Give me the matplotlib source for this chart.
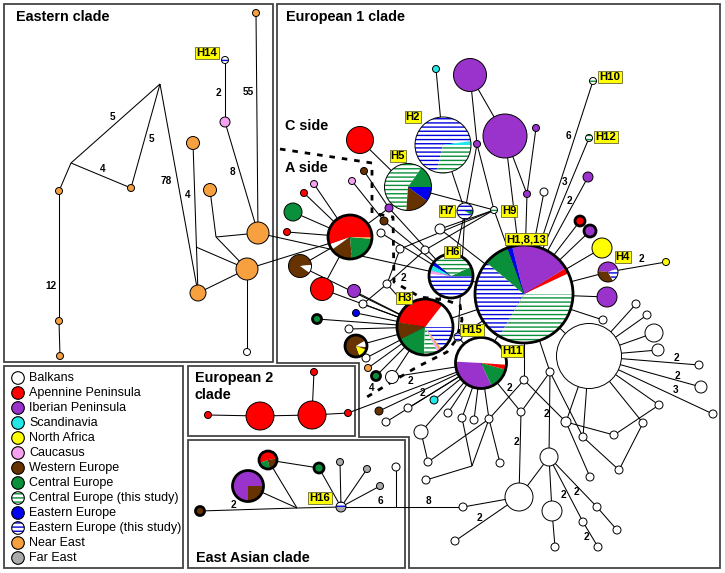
import matplotlib
matplotlib.use("Agg")
import matplotlib.pyplot as plt
from matplotlib.patches import Circle, Wedge, Rectangle, Polygon

plt.rcParams['font.family'] = ['Liberation Sans', 'DejaVu Sans']
plt.rcParams['hatch.linewidth'] = 1.0

# regions (legend order), colours, hatch
categories = ['Balkans', 'Apennine Peninsula', 'Iberian Peninsula', 'Scandinavia',
              'North Africa', 'Caucasus', 'Western Europe', 'Central Europe',
              'Central Europe (this study)', 'Eastern Europe',
              'Eastern Europe (this study)', 'Near East', 'Far East']
keys = ['BAL', 'APE', 'IBE', 'SCA', 'NAF', 'CAU', 'WEU', 'CEU', 'CEUs', 'EEU', 'EEUs', 'NEA', 'FEA']
face = {'BAL': 'white', 'APE': '#ff0000', 'IBE': '#9933cc', 'SCA': '#22e8e8',
        'NAF': '#ffff00', 'CAU': '#f5a0f0', 'WEU': '#663300', 'CEU': '#0a8f3a',
        'CEUs': 'white', 'EEU': '#0000ee', 'EEUs': 'white', 'NEA': '#f7a040',
        'FEA': '#aaaaaa'}
stripe = {'CEUs': '#0a8f3a', 'EEUs': '#0000dd'}

# haplotype nodes: name, x, y, radius (pixels of the original figure), fill, bold outline
eastern_nodes = [
    ('e_top', 256, 13, 3.5, 'NEA', 0), ('H14', 225, 60, 3.5, 'EEUs', 0),
    ('e_pink', 225, 122, 5, 'CAU', 0), ('e_o1', 193, 143, 6.5, 'NEA', 0),
    ('e_o2', 210, 190, 6.5, 'NEA', 0), ('e_A', 258, 233, 11, 'NEA', 0),
    ('e_B', 247, 269, 11, 'NEA', 0), ('e_C', 198, 293, 8, 'NEA', 0),
    ('e_w', 247, 352, 3.5, 'BAL', 0), ('e_o3', 131, 188, 3.5, 'NEA', 0),
    ('e_o4', 59, 191, 3.5, 'NEA', 0), ('e_o5', 59, 321, 3.5, 'NEA', 0),
    ('e_o6', 60, 356, 3.5, 'NEA', 0),
    ('j1', 160, 84, 0, None, 0), ('j2', 71, 163, 0, None, 0),
    ('j3', 216, 237, 0, None, 0), ('j4', 196, 247, 0, None, 0),
]

euro1_nodes = [
    ('cy1', 436, 69, 3.5, 'SCA', 0), ('P1', 470, 75, 16.5, 'IBE', 0),
    ('P2', 505, 136, 22, 'IBE', 0), ('pu1', 536, 128, 3.5, 'IBE', 0),
    ('H10', 593, 81, 3.5, 'CEUs', 0), ('H12', 589, 138, 3.5, 'CEUs', 0),
    ('pu2', 588, 177, 5, 'IBE', 0), ('H2', 443, 145, 28, 'pie_H2', 0),
    ('red1', 360, 140, 13.5, 'APE', 0), ('pu3', 477, 144, 3.5, 'IBE', 0),
    ('H5', 408, 187, 23.5, 'pie_H5', 0), ('H7', 465, 211, 8, 'pie_H7', 0),
    ('H9', 494, 210, 3.5, 'CEUs', 0), ('pu4', 527, 194, 3.5, 'IBE', 0),
    ('w1', 544, 192, 4, 'BAL', 0), ('rb', 580, 221, 5, 'APE', 1),
    ('pb', 590, 231, 6, 'IBE', 1), ('ye', 602, 248, 10, 'NAF', 0),
    ('H4', 608, 272, 10, 'pie_H4', 0), ('ye2', 666, 262, 3.5, 'NAF', 0),
    ('H1', 524, 294, 49, 'pie_H1', 1), ('H6', 451, 276, 22, 'pie_H6', 1),
    ('H3', 425, 327, 28, 'pie_H3', 1), ('H15', 458, 337, 4, 'EEUs', 0),
    ('H11', 481, 363, 25.5, 'pie_H11', 1), ('BW', 589, 356, 32.5, 'BAL', 0),
    ('pu5', 607, 297, 10, 'IBE', 0),
    ('PR', 350, 237, 22, 'pie_PR', 1), ('r2', 304, 193, 3.5, 'APE', 0),
    ('pk1', 314, 184, 3.5, 'CAU', 0), ('pk2', 352, 181, 3.5, 'CAU', 0),
    ('br1', 364, 171, 3.5, 'WEU', 0), ('pu6', 389, 208, 4, 'IBE', 0),
    ('br2', 384, 221, 4, 'WEU', 0), ('g1', 293, 212, 9, 'CEU', 0),
    ('r3', 287, 232, 3.5, 'APE', 0), ('BP', 300, 266, 11.5, 'pie_BP', 0),
    ('r4', 322, 289, 11.5, 'APE', 0), ('pu7', 354, 291, 6.5, 'IBE', 0),
    ('w2', 381, 233, 4, 'BAL', 0), ('w3', 440, 229, 5, 'BAL', 0),
    ('w4', 400, 249, 4, 'BAL', 0), ('w5', 425, 250, 4, 'BAL', 0),
    ('w6', 387, 284, 4, 'BAL', 0), ('w7', 363, 304, 4, 'BAL', 0),
    ('bl1', 356, 313, 3.5, 'EEU', 0), ('gb1', 317, 319, 4.5, 'CEU', 1),
    ('w8', 349, 329, 4, 'BAL', 0), ('BY', 356, 346, 11, 'pie_BY', 1),
    ('w9', 366, 358, 4, 'BAL', 0), ('or1', 368, 368, 3.5, 'NEA', 0),
    ('gb2', 376, 376, 4.5, 'CEU', 1), ('w10', 392, 377, 6.5, 'BAL', 0),
    ('br3', 379, 411, 4, 'WEU', 0), ('w11', 386, 422, 4, 'BAL', 0),
    ('w12', 408, 408, 4, 'BAL', 0), ('cy2', 434, 400, 4, 'SCA', 0),
    ('w13', 448, 413, 4, 'BAL', 0), ('w14', 462, 418, 4, 'BAL', 0),
    ('w15', 474, 420, 4, 'BAL', 0), ('w16', 489, 419, 4, 'BAL', 0),
    ('w17', 421, 432, 7, 'BAL', 0), ('w18', 428, 462, 4, 'BAL', 0),
    ('w19', 426, 480, 4, 'BAL', 0), ('w20', 500, 463, 4, 'BAL', 0),
    ('jV', 472, 466, 0, None, 0),
    ('w21', 524, 380, 4, 'BAL', 0), ('w22', 521, 412, 4, 'BAL', 0),
    ('w23', 550, 372, 4, 'BAL', 0), ('w24', 549, 457, 9, 'BAL', 0),
    ('w25', 519, 497, 14, 'BAL', 0), ('w26', 552, 511, 10, 'BAL', 0),
    ('w27', 463, 507, 4, 'BAL', 0), ('w28', 455, 541, 4, 'BAL', 0),
    ('w29', 555, 547, 4, 'BAL', 0), ('w30', 598, 547, 4, 'BAL', 0),
    ('w31', 583, 522, 4, 'BAL', 0), ('w32', 597, 507, 4, 'BAL', 0),
    ('w33', 617, 530, 4, 'BAL', 0), ('w34', 566, 422, 5, 'BAL', 0),
    ('w35', 583, 437, 4, 'BAL', 0), ('w36', 590, 477, 4, 'BAL', 0),
    ('w37', 614, 435, 4, 'BAL', 0), ('w38', 619, 470, 4, 'BAL', 0),
    ('w39', 643, 423, 4, 'BAL', 0), ('w40', 659, 405, 4, 'BAL', 0),
    ('w41', 603, 320, 4, 'BAL', 0), ('w42', 636, 304, 4, 'BAL', 0),
    ('w43', 647, 315, 4, 'BAL', 0), ('w44', 654, 333, 9, 'BAL', 0),
    ('w45', 658, 350, 6, 'BAL', 0), ('w46', 699, 365, 4, 'BAL', 0),
    ('w47', 701, 387, 6, 'BAL', 0), ('w48', 713, 414, 4, 'BAL', 0),
]

euro2_nodes = [
    ('e2a', 208, 415, 3.5, 'APE', 0), ('e2b', 260, 416, 14, 'APE', 0),
    ('e2c', 312, 415, 14, 'APE', 0), ('e2d', 348, 413, 3.5, 'APE', 0),
    ('e2e', 314, 372, 3.5, 'APE', 0),
]

asian_nodes = [
    ('EP', 248, 486, 15.5, 'pie_EP', 1), ('ER', 268, 460, 9, 'pie_ER', 1),
    ('eg', 319, 468, 5, 'CEU', 1), ('gy1', 340, 462, 3.5, 'FEA', 0),
    ('gy2', 367, 469, 3.5, 'FEA', 0), ('gy3', 380, 486, 3.5, 'FEA', 0),
    ('ew', 396, 467, 4, 'BAL', 0), ('H16', 341, 507, 5, 'pie_H16', 0),
    ('ebr', 200, 511, 4.5, 'WEU', 1),
    ('jE', 297, 508, 0, None, 0), ('jE2', 396, 507, 0, None, 0),
]

# pie compositions: (region, start angle, end angle), degrees counter-clockwise from east
pie_H1 = [('EEUs', 140, 240), ('CEUs', 240, 360), ('BAL', 0, 25), ('APE', 25, 32),
          ('IBE', 32, 104), ('EEU', 104, 110), ('CEU', 110, 140)]
pie_H2 = [('EEUs', 8, 256), ('CEUs', 256, 360), ('SCA', 0, 8)]
pie_H5 = [('CEUs', 55, 266), ('WEU', 266, 324), ('EEU', 324, 360), ('CEU', 0, 55)]
pie_H7 = [('EEUs', 0, 330), ('CEU', 330, 360)]
pie_H4 = [('IBE', 20, 175), ('WEU', 175, 300), ('EEUs', 300, 380)]
pie_H6 = [('EEUs', 180, 360), ('CEU', 0, 25), ('CEUs', 25, 140), ('EEU', 140, 150),
          ('SCA', 150, 165), ('CAU', 165, 175), ('BAL', 175, 180)]
pie_H3 = [('BAL', 0, 52), ('APE', 52, 170), ('WEU', 170, 207), ('CEU', 207, 268),
          ('CEUs', 268, 297), ('CAU', 297, 302), ('NEA', 302, 307), ('EEUs', 307, 360)]
pie_H11 = [('BAL', -4, 177), ('IBE', 177, 295), ('CEU', 295, 345), ('APE', 345, 356)]
pie_PR = [('APE', 0, 200), ('BAL', 200, 215), ('WEU', 215, 275), ('CEU', 275, 355),
          ('NEA', 355, 360)]
pie_BP = [('WEU', 5, 325), ('BAL', 325, 365)]
pie_BY = [('WEU', 30, 290), ('NAF', 290, 340), ('WEU', 340, 355), ('BAL', 355, 390)]
pie_EP = [('IBE', 0, 270), ('WEU', 270, 360)]
pie_ER = [('APE', 10, 200), ('CEU', 200, 280), ('WEU', 280, 370)]
pie_H16 = [('EEUs', 0, 180), ('FEA', 180, 360)]
pies = {'pie_H1': pie_H1, 'pie_H2': pie_H2, 'pie_H5': pie_H5, 'pie_H7': pie_H7,
        'pie_H4': pie_H4, 'pie_H6': pie_H6, 'pie_H3': pie_H3, 'pie_H11': pie_H11,
        'pie_PR': pie_PR, 'pie_BP': pie_BP, 'pie_BY': pie_BY, 'pie_EP': pie_EP,
        'pie_ER': pie_ER, 'pie_H16': pie_H16}

# network edges (mutational links)
eastern_edges = [('e_top', 'e_A'), ('H14', 'e_pink'), ('e_pink', 'e_A'), ('j1', 'j2'),
                 ('j1', 'e_o3'), ('j1', 'e_C'), ('j2', 'e_o3'), ('j2', 'e_o4'),
                 ('e_o4', 'e_o5'), ('e_o5', 'e_o6'), ('e_o1', 'e_C'), ('e_o2', 'j3'),
                 ('j3', 'e_A'), ('j3', 'e_B'), ('j4', 'e_B'), ('e_C', 'e_B'),
                 ('e_B', 'e_w'), ('e_A', 'H6'), ('e_B', 'PR')]
euro1_edges = [('cy1', 'H2'), ('P1', 'P2'), ('P1', 'pu3'), ('pu3', 'H7'), ('pu3', 'H9'),
               ('P2', 'pu4'), ('P2', 'H1'), ('pu1', 'pu4'), ('pu4', 'H1'), ('w1', 'H1'),
               ('H10', 'H1'), ('H12', 'H1'), ('pu2', 'H1'), ('rb', 'H1'), ('pb', 'H1'),
               ('ye', 'H1'), ('H4', 'H1'), ('pu5', 'H1'), ('H4', 'ye2'), ('H2', 'H7'),
               ('H5', 'H9'), ('H5', 'red1'), ('H7', 'H6'), ('H7', 'H15'), ('H9', 'H1'),
               ('H9', 'w3'), ('H9', 'w5'), ('H9', 'w4'), ('br1', 'pu6'), ('pu6', 'PR'),
               ('pu6', 'H6'), ('pk2', 'br2'), ('br2', 'H6'), ('pk1', 'PR'), ('r2', 'PR'),
               ('g1', 'PR'), ('r3', 'PR'), ('BP', 'PR'), ('r4', 'PR'), ('BP', 'H3'),
               ('w2', 'H6'), ('w3', 'H1'), ('w4', 'w6'), ('w5', 'w6'), ('w6', 'H3'),
               ('w7', 'w6'), ('w7', 'H3'), ('pu7', 'H3'), ('bl1', 'H3'), ('gb1', 'H3'),
               ('w8', 'H3'), ('BY', 'H3'), ('w9', 'H3'), ('gb2', 'H3'), ('w10', 'H3'),
               ('r4', 'H3'), ('H6', 'H1'), ('H6', 'H3'), ('H15', 'H1'), ('H3', 'H1'),
               ('H11', 'H1'), ('H11', 'H15'), ('H1', 'BW'), ('H1', 'w21'), ('H1', 'w23'),
               ('H1', 'w41'), ('BW', 'w42'), ('BW', 'w43'), ('BW', 'w44'), ('BW', 'w45'),
               ('BW', 'w46'), ('BW', 'w47'), ('BW', 'w48'), ('BW', 'w40'), ('BW', 'w39'),
               ('BW', 'w35'), ('BW', 'w34'), ('w21', 'w16'), ('w21', 'w34'),
               ('w23', 'w22'), ('w23', 'w35'), ('H11', 'w22'),
               ('w23', 'w24'), ('w22', 'w25'), ('w24', 'w25'),
               ('w24', 'w26'), ('w24', 'w31'), ('w24', 'w32'), ('w31', 'w30'),
               ('w32', 'w33'), ('w26', 'w29'), ('w25', 'w27'), ('w25', 'w28'),
               ('w34', 'w36'), ('w34', 'w37'), ('w35', 'w38'), ('w39', 'w38'),
               ('w40', 'w37'), ('H11', 'w10'), ('H11', 'br3'), ('H11', 'w11'),
               ('H11', 'w12'), ('H11', 'cy2'), ('H11', 'w13'), ('H11', 'w14'),
               ('H11', 'w15'), ('H11', 'w16'), ('H11', 'w17'), ('w17', 'w18'),
               ('w16', 'w18'), ('w16', 'w20'), ('w16', 'jV'), ('w14', 'jV'),
               ('jV', 'w19'), ('H11', 'e2d'), ('or1', 'H3')]
euro2_edges = [('e2a', 'e2b'), ('e2b', 'e2c'), ('e2c', 'e2d'), ('e2c', 'e2e')]
asian_edges = [('ebr', 'jE'), ('EP', 'jE'), ('ER', 'jE'), ('jE', 'H16'), ('ER', 'eg'),
               ('eg', 'H16'), ('gy1', 'H16'), ('gy2', 'H16'), ('gy3', 'H16'),
               ('H16', 'jE2'), ('jE2', 'w27'), ('ew', 'jE2')]

# number of mutations on edges
edge_labels = [('55', 248, 92), ('2', 218, 93), ('8', 232, 172), ('5', 113, 117),
               ('5', 152, 139), ('78', 166, 181), ('4', 103, 169), ('12', 51, 286),
               ('4', 188, 195), ('6', 568, 136), ('3', 565, 182), ('2', 569, 201),
               ('2', 641, 259), ('2', 403, 278), ('2', 410, 381), ('2', 422, 393),
               ('4', 372, 388), ('2', 509, 388), ('2', 546, 414), ('2', 516, 442),
               ('2', 479, 518), ('2', 563, 495), ('2', 576, 492), ('2', 586, 537),
               ('2', 676, 358), ('2', 677, 376), ('3', 676, 390), ('8', 428, 501),
               ('6', 380, 501), ('2', 233, 505)]

hap_labels = [('H14', 207, 53), ('H2', 413, 117), ('H5', 398, 156), ('H7', 447, 211),
              ('H9', 509, 211), ('H10', 610, 77), ('H12', 606, 137),
              ('H1,8,13', 526, 239), ('H4', 623, 257), ('H6', 452, 252),
              ('H3', 404, 298), ('H15', 472, 330), ('H11', 512, 351), ('H16', 320, 498)]

# A side / C side boundary
divide_x = [280, 372, 372, 393, 394, 420, 445, 460, 462, 456, 447, 417, 390, 362]
divide_y = [149, 163, 213, 217, 282, 297, 300, 305, 320, 340, 352, 367, 383, 400]

W, H = 725, 573
fig = plt.figure(figsize=(W / 100, H / 100), dpi=100)
ax = fig.add_axes([0, 0, 1, 1])
ax.set_xlim(0, W)
ax.set_ylim(H, 0)
ax.axis('off')

all_nodes = eastern_nodes + euro1_nodes + euro2_nodes + asian_nodes
pos = {n[0]: (n[1], n[2]) for n in all_nodes}


def region_patch(k, shape):
    if k in stripe:
        shape.set_facecolor('white')
        shape.set_edgecolor(stripe[k])
        shape.set_hatch('----')
        shape.set_linewidth(0)
    else:
        shape.set_facecolor(face[k])
        shape.set_edgecolor('none')
    return shape


def draw_node(x, y, r, fill, bold):
    if r == 0:
        return
    if fill in pies:
        for k, t1, t2 in pies[fill]:
            ax.add_patch(region_patch(k, Wedge((x, y), r, -t2, -t1, zorder=3)))
    else:
        ax.add_patch(region_patch(fill, Circle((x, y), r, zorder=3)))
    ax.add_patch(Circle((x, y), r, facecolor='none', edgecolor='black',
                        linewidth=2.0 if bold else 0.7, zorder=4))


for a, b in eastern_edges + euro1_edges + euro2_edges + asian_edges:
    ax.plot([pos[a][0], pos[b][0]], [pos[a][1], pos[b][1]], color='black',
            linewidth=0.75, zorder=2, solid_capstyle='butt')

ax.plot(divide_x, divide_y, color='black', linewidth=2.0, linestyle=(0, (2, 2.5)),
        zorder=2.5)

for name, x, y, r, fill, bold in all_nodes:
    draw_node(x, y, r, fill, bold)

for t, x, y in edge_labels:
    ax.text(x, y, t, fontsize=7.2, fontweight='bold', ha='center', va='center', zorder=6)

for t, x, y in hap_labels:
    ax.text(x, y, t, fontsize=8.2, fontweight='bold', ha='center', va='center', zorder=7,
            bbox=dict(boxstyle='square,pad=0.1', facecolor='#ffff00', edgecolor='#666633',
                      linewidth=0.6))

# panel frames
frame = dict(facecolor='none', edgecolor='#444444', linewidth=1.3, zorder=1)
ax.add_patch(Rectangle((4, 4), 269, 358, **frame))
ax.add_patch(Polygon([(277, 4), (720, 4), (720, 568), (409, 568), (409, 437),
                      (359, 437), (359, 363), (277, 363)], closed=True, **frame))
ax.add_patch(Rectangle((4, 366), 179, 202, **frame))
ax.add_patch(Rectangle((188, 366), 167, 70, **frame))
ax.add_patch(Rectangle((188, 440), 217, 128, **frame))

title = dict(fontsize=10.4, fontweight='bold', ha='left', va='center', zorder=6)
ax.text(16, 17, 'Eastern clade', **title)
ax.text(286, 17, 'European 1 clade', **title)
ax.text(285, 126, 'C side', **title)
ax.text(285, 168, 'A side', **title)
ax.text(195, 378, 'European 2', **title)
ax.text(195, 395, 'clade', **title)
ax.text(196, 558, 'East Asian clade', **title)

# legend
for i, (k, lab) in enumerate(zip(keys, categories)):
    ly = 378 + 15 * i
    ax.add_patch(region_patch(k, Circle((18, ly), 6.3, zorder=3)))
    ax.add_patch(Circle((18, ly), 6.3, facecolor='none', edgecolor='black',
                        linewidth=0.8, zorder=4))
    ax.text(29, ly, lab, fontsize=9, ha='left', va='center', zorder=6)

fig.savefig('out.png', dpi=100)
